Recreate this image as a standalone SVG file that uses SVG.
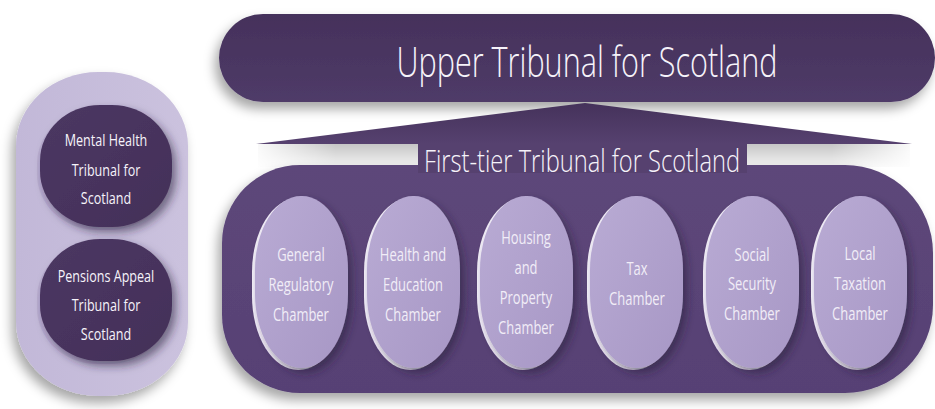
<svg xmlns="http://www.w3.org/2000/svg" width="935" height="409" viewBox="0 0 935 409">
  <defs>
    <style>
      .t { font-family: "Open Sans", "Noto Sans", "Liberation Sans", sans-serif; font-weight: 300; fill: #f6f3fa; text-anchor: middle; }
      .pill-label { font-size: 18px; fill: #f1edf7; font-weight: 400; }
      .disc-label { font-size: 17px; font-weight: 400; }
      .pill { fill: url(#pillFill); }
      .pill-rim { fill: #f4f0fa; }
      .disc { fill: url(#discFill); }
      .disc-rim { fill: #b9add0; }
    </style>
    <linearGradient id="upperFill" x1="0" y1="0" x2="0" y2="1">
      <stop offset="0" stop-color="#45315b"/>
      <stop offset="1" stop-color="#4f3b68"/>
    </linearGradient>
    <linearGradient id="firstFill" x1="0" y1="0" x2="0" y2="1">
      <stop offset="0" stop-color="#5d477a"/>
      <stop offset="1" stop-color="#574174"/>
    </linearGradient>
    <linearGradient id="triFill" x1="0" y1="0" x2="0" y2="1">
      <stop offset="0" stop-color="#45325b"/>
      <stop offset="1" stop-color="#56416f"/>
    </linearGradient>
    <linearGradient id="bandFill" x1="0" y1="0" x2="0" y2="1">
      <stop offset="0" stop-color="#c4c4c4"/>
      <stop offset="1" stop-color="#f4f4f4"/>
    </linearGradient>
    <linearGradient id="bandFade" x1="0" y1="0" x2="1" y2="0">
      <stop offset="0" stop-color="#fff" stop-opacity="0.9"/>
      <stop offset="0.12" stop-color="#fff" stop-opacity="0"/>
      <stop offset="0.88" stop-color="#fff" stop-opacity="0"/>
      <stop offset="1" stop-color="#fff" stop-opacity="0.9"/>
    </linearGradient>
    <linearGradient id="pillFill" x1="0" y1="0" x2="1" y2="1">
      <stop offset="0" stop-color="#b9abd4"/>
      <stop offset="1" stop-color="#a797c5"/>
    </linearGradient>
    <linearGradient id="discFill" x1="0" y1="0" x2="1" y2="1">
      <stop offset="0" stop-color="#4c3863"/>
      <stop offset="1" stop-color="#432f58"/>
    </linearGradient>
    <linearGradient id="panelFill" x1="0" y1="0" x2="1" y2="0">
      <stop offset="0" stop-color="#c2b8d8"/>
      <stop offset="1" stop-color="#cbc2de"/>
    </linearGradient>
    <filter id="softShadow" x="-20%" y="-20%" width="140%" height="150%">
      <feDropShadow dx="-4" dy="7" stdDeviation="6" flood-color="#000" flood-opacity="0.35"/>
    </filter>
    <filter id="pillShadow" x="-30%" y="-20%" width="160%" height="140%">
      <feDropShadow dx="4" dy="5" stdDeviation="4" flood-color="#2a1c3a" flood-opacity="0.55"/>
    </filter>
  </defs>

  <rect width="935" height="409" fill="#ffffff"/>

  <!-- standalone tribunals panel -->
  <g id="standalone-panel">
    <rect x="16" y="72" width="172" height="324" rx="82" ry="74" fill="url(#panelFill)" filter="url(#softShadow)"/>
  </g>

  <g id="mental-health-tribunal">
    <rect x="37" y="108" width="132" height="122" rx="60" ry="56" class="disc-rim"/>
    <rect x="40" y="105" width="132" height="122" rx="60" ry="56" class="disc" filter="url(#pillShadow)"/>
    <g transform="translate(106 0) scale(0.74 1)">
      <text class="t disc-label" x="0" y="146">Mental Health</text>
      <text class="t disc-label" x="0" y="176">Tribunal for</text>
      <text class="t disc-label" x="0" y="204">Scotland</text>
    </g>
  </g>

  <g id="pensions-appeal-tribunal">
    <rect x="37" y="242" width="132" height="122" rx="60" ry="56" class="disc-rim"/>
    <rect x="40" y="239" width="132" height="122" rx="60" ry="56" class="disc" filter="url(#pillShadow)"/>
    <g transform="translate(106 0) scale(0.74 1)">
      <text class="t disc-label" x="0" y="282">Pensions Appeal</text>
      <text class="t disc-label" x="0" y="311">Tribunal for</text>
      <text class="t disc-label" x="0" y="340">Scotland</text>
    </g>
  </g>

  <!-- upper tier -->
  <g id="upper-tribunal">
    <rect x="219" y="14" width="716" height="88" rx="44" fill="url(#upperFill)" filter="url(#softShadow)"/>
    <text class="t" x="587" y="77" font-size="42" textLength="381" lengthAdjust="spacingAndGlyphs">Upper Tribunal for Scotland</text>
  </g>

  <!-- link from first tier up to the upper tier -->
  <g id="connectors">
    <rect x="258" y="143" width="652" height="24" fill="url(#bandFill)"/>
    <rect x="258" y="143" width="652" height="24" fill="url(#bandFade)"/>
    <polygon points="585,103 912,144 256,144" fill="url(#triFill)"/>
  </g>

  <!-- first tier with its chambers -->
  <g id="first-tier-tribunal">
    <path d="M 300 165 H 845 A 88 88 0 0 1 933 253 V 305 A 88 88 0 0 1 845 393 H 300 A 78 78 0 0 1 222 315 V 243 A 78 78 0 0 1 300 165 Z" fill="url(#firstFill)" filter="url(#softShadow)"/>
    <rect x="418" y="143" width="329" height="30" fill="#56416f"/>
    <text class="t" x="582" y="172" font-size="32" textLength="316" lengthAdjust="spacingAndGlyphs">First-tier Tribunal for Scotland</text>
  </g>

  <g id="general-regulatory-chamber">
    <rect x="252" y="198" width="93" height="172" rx="46" ry="74" class="pill-rim"/>
    <rect x="255" y="196" width="93" height="172" rx="46" ry="74" class="pill" filter="url(#pillShadow)"/>
    <g transform="translate(301 0) scale(0.72 1)">
      <text class="t pill-label" x="0" y="261">General</text>
      <text class="t pill-label" x="0" y="291">Regulatory</text>
      <text class="t pill-label" x="0" y="321">Chamber</text>
    </g>
  </g>

  <g id="health-education-chamber">
    <rect x="364" y="198" width="93" height="172" rx="46" ry="74" class="pill-rim"/>
    <rect x="367" y="196" width="93" height="172" rx="46" ry="74" class="pill" filter="url(#pillShadow)"/>
    <g transform="translate(413 0) scale(0.72 1)">
      <text class="t pill-label" x="0" y="261">Health and</text>
      <text class="t pill-label" x="0" y="291">Education</text>
      <text class="t pill-label" x="0" y="321">Chamber</text>
    </g>
  </g>

  <g id="housing-property-chamber">
    <rect x="477" y="198" width="93" height="172" rx="46" ry="74" class="pill-rim"/>
    <rect x="480" y="196" width="93" height="172" rx="46" ry="74" class="pill" filter="url(#pillShadow)"/>
    <g transform="translate(526 0) scale(0.72 1)">
      <text class="t pill-label" x="0" y="244">Housing</text>
      <text class="t pill-label" x="0" y="274">and</text>
      <text class="t pill-label" x="0" y="304">Property</text>
      <text class="t pill-label" x="0" y="334">Chamber</text>
    </g>
  </g>

  <g id="tax-chamber">
    <rect x="587" y="198" width="93" height="172" rx="46" ry="74" class="pill-rim"/>
    <rect x="590" y="196" width="93" height="172" rx="46" ry="74" class="pill" filter="url(#pillShadow)"/>
    <g transform="translate(637 0) scale(0.72 1)">
      <text class="t pill-label" x="0" y="275">Tax</text>
      <text class="t pill-label" x="0" y="305">Chamber</text>
    </g>
  </g>

  <g id="social-security-chamber">
    <rect x="703" y="198" width="93" height="172" rx="46" ry="74" class="pill-rim"/>
    <rect x="706" y="196" width="93" height="172" rx="46" ry="74" class="pill" filter="url(#pillShadow)"/>
    <g transform="translate(752 0) scale(0.72 1)">
      <text class="t pill-label" x="0" y="261">Social</text>
      <text class="t pill-label" x="0" y="290">Security</text>
      <text class="t pill-label" x="0" y="320">Chamber</text>
    </g>
  </g>

  <g id="local-taxation-chamber">
    <rect x="811" y="198" width="93" height="172" rx="46" ry="74" class="pill-rim"/>
    <rect x="814" y="196" width="93" height="172" rx="46" ry="74" class="pill" filter="url(#pillShadow)"/>
    <g transform="translate(860 0) scale(0.72 1)">
      <text class="t pill-label" x="0" y="260">Local</text>
      <text class="t pill-label" x="0" y="290">Taxation</text>
      <text class="t pill-label" x="0" y="320">Chamber</text>
    </g>
  </g>
</svg>
